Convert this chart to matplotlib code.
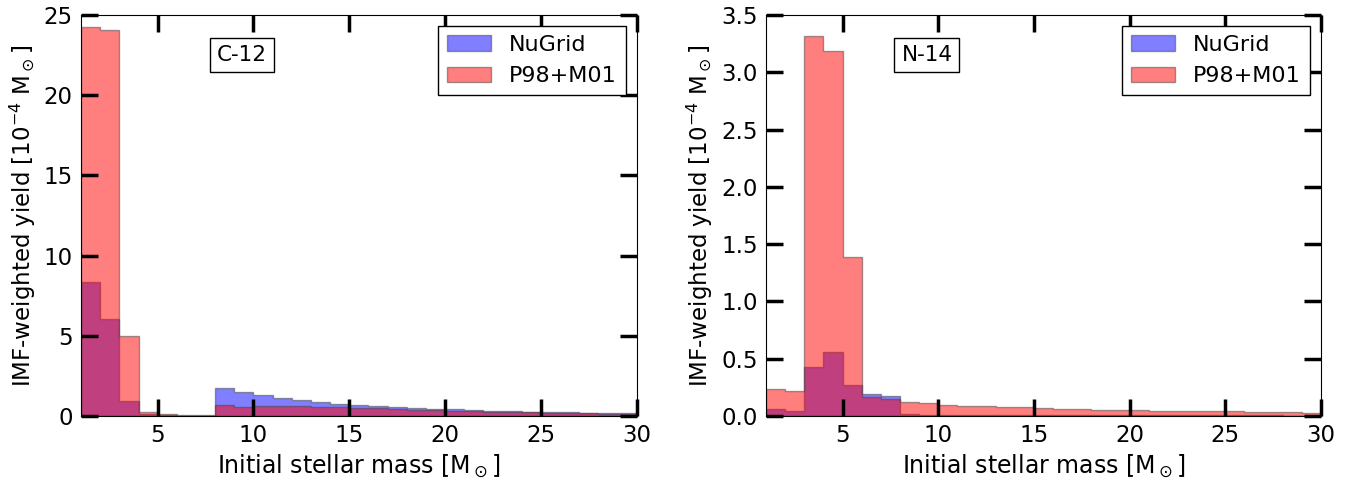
import matplotlib
matplotlib.use("Agg")
import matplotlib.pyplot as plt
import numpy as np

# bin edges in initial stellar mass [Msun]
mass_edges = list(range(1, 31))

# C-12, IMF-weighted yields [1e-4 Msun]
c12_nugrid = [8.35, 6.07, 0.93, 0.12, 0.06, 0.03, 0.03, 1.72, 1.47, 1.30,
              1.14, 1.00, 0.87, 0.75, 0.66, 0.60, 0.55, 0.50, 0.46, 0.42,
              0.38, 0.33, 0.29, 0.26, 0.24, 0.22, 0.20, 0.19, 0.17]
c12_p98 = [24.25, 24.05, 4.98, 0.25, 0.15, 0.05, 0.05, 0.66, 0.58, 0.64,
           0.64, 0.60, 0.58, 0.56, 0.52, 0.48, 0.43, 0.40, 0.37, 0.33,
           0.30, 0.27, 0.25, 0.22, 0.20, 0.18, 0.16, 0.14, 0.12]

# N-14
n14_nugrid = [0.06, 0.045, 0.43, 0.555, 0.27, 0.19, 0.175, 0.015, 0.013, 0.012,
              0.011, 0.010, 0.010, 0.009, 0.009, 0.008, 0.008, 0.007, 0.007, 0.007,
              0.006, 0.006, 0.006, 0.005, 0.005, 0.005, 0.005, 0.004, 0.004]
n14_p98 = [0.24, 0.22, 3.32, 3.19, 1.39, 0.17, 0.15, 0.12, 0.11, 0.10,
           0.09, 0.085, 0.08, 0.075, 0.07, 0.065, 0.06, 0.055, 0.05, 0.05,
           0.045, 0.045, 0.04, 0.04, 0.04, 0.035, 0.035, 0.035, 0.03]

labels = ["NuGrid", "P98+M01"]


def panel(ax, nugrid, p98, name, yticks, fmt):
    edges = np.array(mass_edges, dtype=float)
    centers = 0.5 * (edges[1:] + edges[:-1])
    ax.hist(centers, bins=edges, weights=nugrid, histtype="stepfilled",
            facecolor="blue", edgecolor="0.25", alpha=0.5, label=labels[0])
    ax.hist(centers, bins=edges, weights=p98, histtype="stepfilled",
            facecolor="red", edgecolor="0.25", alpha=0.5, label=labels[1])
    ax.set_xlim(1, 30)
    ax.set_ylim(yticks[0], yticks[-1])
    ax.set_xticks([5, 10, 15, 20, 25, 30])
    ax.set_yticks(yticks)
    ax.set_yticklabels([fmt % t for t in yticks])
    ax.tick_params(direction="in", length=12, width=2.5, top=True, right=True,
                   labelsize=16.5, pad=6)
    ax.set_xlabel(r"Initial stellar mass [M$_\odot$]", fontsize=17)
    ax.set_ylabel(r"IMF-weighted yield [10$^{-4}$ M$_\odot$]", fontsize=16.5)
    ax.text(0.29, 0.9, name, transform=ax.transAxes, fontsize=15.5,
            ha="center", va="center",
            bbox=dict(facecolor="white", edgecolor="k", pad=5))
    ax.legend(loc="upper right", fontsize=16, fancybox=False,
              edgecolor="k", framealpha=1, borderaxespad=0.5)


fig = plt.figure(figsize=(13.62, 4.84), dpi=100)
ax1 = fig.add_axes([0.0595, 0.1405, 0.408, 0.8285])
ax2 = fig.add_axes([0.5624, 0.1405, 0.4075, 0.8285])

panel(ax1, c12_nugrid, c12_p98, "C-12", [0, 5, 10, 15, 20, 25], "%d")
panel(ax2, n14_nugrid, n14_p98, "N-14",
      [0.0, 0.5, 1.0, 1.5, 2.0, 2.5, 3.0, 3.5], "%.1f")

fig.savefig("out.png", dpi=100)
